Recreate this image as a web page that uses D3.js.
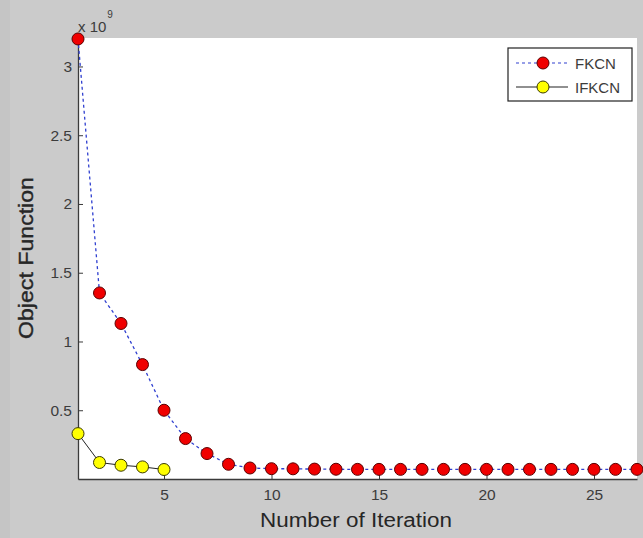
<!DOCTYPE html>
<html>
<head>
<meta charset="utf-8">
<script src="https://cdn.jsdelivr.net/npm/d3@7"></script>
<style>
  html, body { margin: 0; padding: 0; background: #cbcbcb; }
  svg { display: block; font-family: "Liberation Sans", Arial, sans-serif; }
</style>
</head>
<body>
<div id="chart"></div>
<script>
const iterations = d3.range(1, 28);
const fkcn = [3.2e9, 1.353e9, 1.131e9, 0.832e9, 0.5e9, 0.294e9, 0.185e9, 0.107e9, 0.08e9,
  0.075e9, 0.074e9, 0.072e9, 0.071e9, 0.07e9, 0.07e9, 0.07e9, 0.07e9, 0.07e9, 0.07e9,
  0.07e9, 0.07e9, 0.07e9, 0.07e9, 0.07e9, 0.07e9, 0.07e9, 0.07e9];
const ifkcn = [0.33e9, 0.12e9, 0.1e9, 0.088e9, 0.069e9];
const xTicks = [5, 10, 15, 20, 25];
const yTicks = [0.5e9, 1e9, 1.5e9, 2e9, 2.5e9, 3e9];
const seriesNames = ["FKCN", "IFKCN"];

const width = 643, height = 538;
const plotL = 78, plotR = 637, plotT = 38, plotB = 479;

const svg = d3.select("#chart").append("svg")
  .attr("width", width)
  .attr("height", height);

svg.append("rect").attr("width", width).attr("height", height).attr("fill", "#cbcbcb");
svg.append("rect").attr("width", 10).attr("height", height).attr("fill", "#c5c5c5");

// plot area
svg.append("rect")
  .attr("x", plotL).attr("y", plotT)
  .attr("width", plotR - plotL).attr("height", plotB - plotT)
  .attr("fill", "#fff");

const x = d3.scaleLinear().domain([1, 27]).range([plotL, plotR]);
const y = d3.scaleLinear().domain([0, 3.207e9]).range([plotB, plotT]);

// axes (ticks point inward like matlab)
const xAxis = svg.append("g")
  .attr("transform", `translate(0,${plotB})`)
  .call(d3.axisBottom(x).tickValues(xTicks).tickSizeInner(-5).tickSizeOuter(0).tickPadding(10));
const yAxis = svg.append("g")
  .attr("transform", `translate(${plotL},0)`)
  .call(d3.axisLeft(y).tickValues(yTicks).tickFormat(d => d / 1e9).tickSizeInner(-5).tickSizeOuter(0).tickPadding(6));

[xAxis, yAxis].forEach(g => {
  g.select(".domain").attr("stroke", "#3a3a3a").attr("stroke-width", 1.3);
  g.selectAll(".tick line").attr("stroke", "#3a3a3a");
  g.selectAll(".tick text").attr("fill", "#3c3c3c").style("font-size", "15.5px").style("font-family", "Liberation Sans, Arial, sans-serif");
});

// exponent label
const expo = svg.append("text").attr("x", 78).attr("y", 32).attr("fill", "#3c3c3c").style("font-size", "15px");
expo.append("tspan").text("x 10");
expo.append("tspan").attr("dy", -14).attr("dx", 1).style("font-size", "10px").text("9");

// axis titles
svg.append("text")
  .attr("x", 356).attr("y", 527)
  .attr("text-anchor", "middle")
  .attr("fill", "#262626")
  .attr("textLength", 192).attr("lengthAdjust", "spacingAndGlyphs")
  .style("font-size", "20px")
  .text("Number of Iteration");
svg.append("text")
  .attr("transform", "translate(33,258) rotate(-90)")
  .attr("text-anchor", "middle")
  .attr("fill", "#262626")
  .attr("stroke", "#262626").attr("stroke-width", 0.4)
  .attr("textLength", 162).attr("lengthAdjust", "spacingAndGlyphs")
  .style("font-size", "20px")
  .text("Object Function");

const line = d3.line().x((d, i) => x(iterations[i])).y(d => y(d));

svg.append("path").datum(ifkcn)
  .attr("d", line).attr("fill", "none")
  .attr("stroke", "#222").attr("stroke-width", 1);
svg.append("path").datum(fkcn)
  .attr("d", line).attr("fill", "none")
  .attr("stroke", "#3040d0").attr("stroke-width", 1.3).attr("stroke-dasharray", "3,3");

svg.selectAll("circle.f").data(fkcn).enter().append("circle")
  .attr("class", "f")
  .attr("cx", (d, i) => x(iterations[i])).attr("cy", d => y(d)).attr("r", 6)
  .attr("fill", "#f00000").attr("stroke", "#5a0000").attr("stroke-width", 1);
svg.selectAll("circle.i").data(ifkcn).enter().append("circle")
  .attr("class", "i")
  .attr("cx", (d, i) => x(iterations[i])).attr("cy", d => y(d)).attr("r", 6)
  .attr("fill", "#ffff00").attr("stroke", "#3a3a00").attr("stroke-width", 1);

// legend
const lg = svg.append("g");
lg.append("rect").attr("x", 508).attr("y", 48).attr("width", 124).attr("height", 53)
  .attr("fill", "#fff").attr("stroke", "#222").attr("stroke-width", 1.2);
const legendItems = [
  { name: seriesNames[0], fill: "#f00000", stroke: "#3040d0", dash: "3,3", mk: "#5a0000" },
  { name: seriesNames[1], fill: "#ffff00", stroke: "#222", dash: null, mk: "#3a3a00" }
];
legendItems.forEach((it, i) => {
  const ly = 63 + i * 24;
  lg.append("line").attr("x1", 516).attr("x2", 568).attr("y1", ly).attr("y2", ly)
    .attr("stroke", it.stroke).attr("stroke-width", 1.2).attr("stroke-dasharray", it.dash);
  lg.append("circle").attr("cx", 543).attr("cy", ly).attr("r", 6)
    .attr("fill", it.fill).attr("stroke", it.mk);
  lg.append("text").attr("x", 575).attr("y", ly + 5.5)
    .attr("fill", "#3c3c3c").style("font-size", "15px").text(it.name);
});
</script>
</body>
</html>
